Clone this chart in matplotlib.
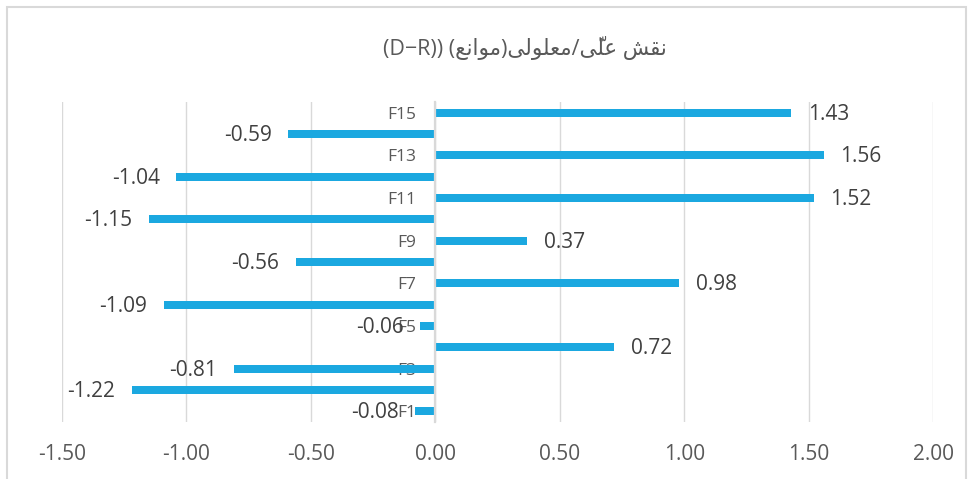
import matplotlib
matplotlib.use("Agg")
import matplotlib.pyplot as plt
from matplotlib.patches import Rectangle

# data (F1 .. F15), D-R values
factors = ["F1", "F2", "F3", "F4", "F5", "F6", "F7", "F8",
           "F9", "F10", "F11", "F12", "F13", "F14", "F15"]
d_minus_r = [-0.08, -1.22, -0.81, 0.72, -0.06, -1.09, 0.98, -0.56,
             0.37, -1.15, 1.52, -1.04, 1.56, -0.59, 1.43]
x_ticks = [-1.5, -1.0, -0.5, 0.0, 0.5, 1.0, 1.5, 2.0]

# title, Persian part written in visual order with presentation forms
# (matplotlib has no shaping / bidi)
w_naqsh = "\uFEB6\uFED8\uFEE7"                      # نقش
w_elli = "\uFBFD\u0651\uFEE0\uFECB"                 # علّی
w_malooli = "\uFBFD\uFEDF\uFEEE\uFEE0\uFECC\uFEE3"  # معلولی
w_mavane = "\uFECA\uFEE7\uFE8D\uFEEE\uFEE3"         # موانع
title = "(D\u2212R)) (" + w_mavane + ")" + w_malooli + "/" + w_elli + " " + w_naqsh

bar_color = "#1ba8e0"
grid_color = "#d9d9d9"
text_color = "#595959"
plt.rcParams["font.family"] = ["Open Sans", "DejaVu Sans"]

fig = plt.figure(figsize=(9.72, 4.79), dpi=100)
ax = fig.add_axes([62 / 972, 1 - 422 / 479, (933 - 62) / 972, (422 - 102) / 479])

ypos = list(range(1, len(factors) + 1))
ax.barh(ypos, d_minus_r, height=0.375, color=bar_color, zorder=3)

ax.tick_params(axis="x", length=0, pad=16, labelsize=15, labelcolor=text_color)
ax.tick_params(axis="y", length=0, pad=14, labelsize=12.5, labelcolor=text_color)

ax.set_xlim(-1.5, 2.0)
ax.set_ylim(0.5, len(factors) + 0.5)
ax.set_xticks(x_ticks)
ax.set_xticklabels([f"{v:.2f}" for v in x_ticks])
ax.grid(axis="x", color=grid_color, lw=1, zorder=0)

# category labels only on every other bar, next to the zero line
ax.set_yticks(ypos[::2])
ax.set_yticklabels(factors[::2])

for s in ["top", "right", "bottom"]:
    ax.spines[s].set_visible(False)
ax.spines["left"].set_position(("data", 0))
ax.spines["left"].set_color(grid_color)
ax.spines["left"].set_linewidth(1.6)
ax.spines["left"].set_zorder(4)

# value labels at bar ends
for y, v in zip(ypos, d_minus_r):
    off = 12 if v >= 0 else -12
    ax.annotate(f"{v:.2f}", (v, y), xytext=(off, -1), textcoords="offset points",
                ha="left" if v >= 0 else "right", va="center",
                fontsize=15, color="#404040", zorder=5)

fig.text(525 / 972, 1 - 48 / 479, title, ha="center", va="center",
         fontsize=15.5, color=text_color)

# chart border
fig.patches.append(Rectangle((7 / 972, -0.05), 959 / 972, 1 - 7 / 479 + 0.05,
                             transform=fig.transFigure, fill=False,
                             ec=grid_color, lw=1.5))

fig.savefig("out.png", dpi=100)
